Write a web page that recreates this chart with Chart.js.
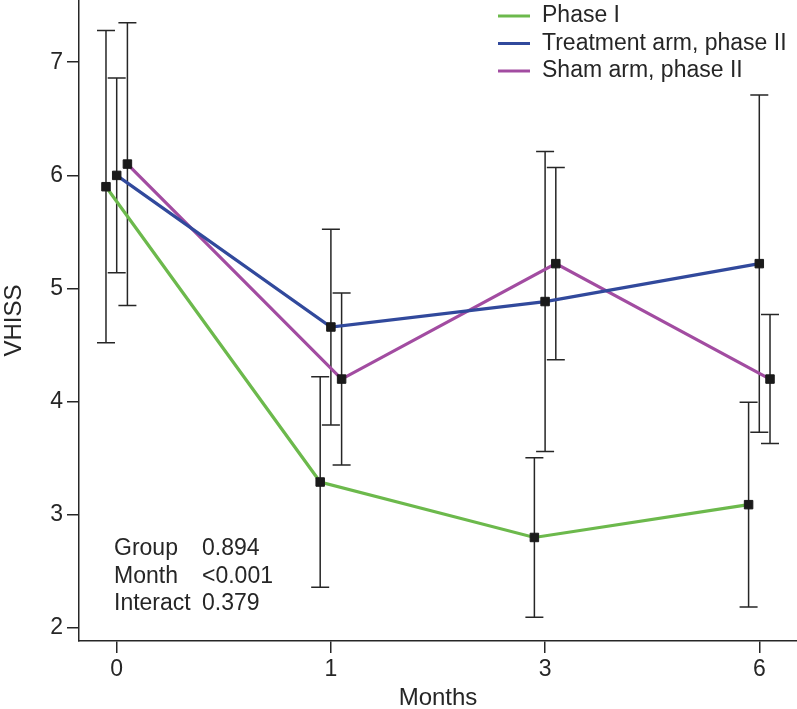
<!DOCTYPE html>
<html>
<head>
<meta charset="utf-8">
<script src="https://cdn.jsdelivr.net/npm/chart.js@4/dist/chart.umd.min.js"></script>
<style>
  body { margin: 0; background: #fff; }
  canvas { display: block; }
</style>
</head>
<body>
<canvas id="chart" width="797" height="709"></canvas>
<script>
// categories (months) and their slot on the x axis
var months = ['0', '1', '3', '6']
var monthSlots = [0, 1, 2, 3]
var yTicks = [2, 3, 4, 5, 6, 7]

// means and half-width of error bars
var phase1 = [5.90, 3.29, 2.80, 3.09]
var phase1Err = [1.38, 0.93, 0.705, 0.905]
var treatment = [6.00, 4.66, 4.885, 5.22]
var treatmentErr = [0.86, 0.865, 1.326, 1.49]
var sham = [6.10, 4.20, 5.22, 4.20]
var shamErr = [1.25, 0.76, 0.85, 0.57]

var seriesNames = ['Phase I', 'Treatment arm, phase II', 'Sham arm, phase II']

// statistics box in the lower left
var statNames = ['Group', 'Month', 'Interact']
var statValues = ['0.894', '<0.001', '0.379']

var FONT = '"Liberation Sans", Arial, Helvetica, sans-serif'
var INK = '#262626'
var colors = ['rgb(108,185,76)', 'rgb(49,73,156)', 'rgb(162,76,161)']
var dodge = [-0.05, 0, 0.05]

function points(means, shift) {
    return means.map((m, i) => ({ x: monthSlots[i] + shift, y: m }))
}

var allErrs = [phase1Err, treatmentErr, shamErr]

var errorBars = {
    id: 'errorBars',
    beforeDatasetsDraw(chart) {
        const ctx = chart.ctx
        const xs = chart.scales.x
        const ys = chart.scales.y
        ctx.save()
        ctx.strokeStyle = INK
        ctx.lineWidth = 1.5
        chart.data.datasets.forEach((ds, di) => {
            ds.data.forEach((p, i) => {
                const e = allErrs[di][i]
                const px = xs.getPixelForValue(p.x)
                const top = ys.getPixelForValue(p.y + e)
                const bot = ys.getPixelForValue(p.y - e)
                ctx.beginPath()
                ctx.moveTo(px, top)
                ctx.lineTo(px, bot)
                ctx.moveTo(px - 9, top)
                ctx.lineTo(px + 9, top)
                ctx.moveTo(px - 9, bot)
                ctx.lineTo(px + 9, bot)
                ctx.stroke()
            })
        })
        ctx.restore()
    }
}

var extras = {
    id: 'extras',
    afterDraw(chart) {
        const ctx = chart.ctx
        const area = chart.chartArea
        ctx.save()
        // legend
        ctx.font = '23px ' + FONT
        ctx.textBaseline = 'middle'
        ctx.textAlign = 'left'
        chart.data.datasets.forEach((ds, i) => {
            const y = 16 + i * 27.5
            ctx.strokeStyle = ds.borderColor
            ctx.lineWidth = 3
            ctx.beginPath()
            ctx.moveTo(498, y)
            ctx.lineTo(530, y)
            ctx.stroke()
            ctx.fillStyle = INK
            ctx.fillText(ds.label, 542, y)
        })
        // stats
        statNames.forEach((n, i) => {
            const y = area.bottom - 92 + i * 27.5
            ctx.fillText(n, area.left + 35, y)
            ctx.fillText(statValues[i], area.left + 123, y)
        })
        ctx.restore()
    }
}

var axisLine = { display: true, color: INK, width: 1.5 }
var tickGrid = { display: true, drawOnChartArea: false, drawTicks: true, tickLength: 12, color: INK, lineWidth: 1.5 }

new Chart(document.getElementById('chart'), {
    type: 'line',
    data: {
        datasets: [
            { label: seriesNames[0], data: points(phase1, dodge[0]), borderColor: colors[0] },
            { label: seriesNames[1], data: points(treatment, dodge[1]), borderColor: colors[1] },
            { label: seriesNames[2], data: points(sham, dodge[2]), borderColor: colors[2] }
        ].map(ds => Object.assign(ds, {
            borderWidth: 3.2,
            tension: 0,
            pointStyle: 'rect',
            pointRadius: 6,
            pointBackgroundColor: '#1a1a1a',
            pointBorderColor: '#1a1a1a',
            pointBorderWidth: 1
        }))
    },
    options: {
        responsive: false,
        animation: false,
        layout: { padding: 0, autoPadding: false },
        plugins: { legend: { display: false }, tooltip: { enabled: false } },
        scales: {
            x: {
                type: 'linear',
                min: -0.176,
                max: 3.176,
                afterBuildTicks: s => { s.ticks = monthSlots.map(v => ({ value: v })) },
                afterFit: s => {
                    s.height = 68
                    s.paddingLeft = 0
                    s.paddingRight = 0
                },
                grid: tickGrid,
                border: axisLine,
                ticks: {
                    color: INK,
                    font: { family: FONT, size: 23 },
                    padding: 3,
                    maxRotation: 0,
                    callback: (v, i) => months[i]
                },
                title: {
                    display: true,
                    text: 'Months',
                    color: INK,
                    font: { family: FONT, size: 24, lineHeight: 1 },
                    padding: { top: 0, bottom: -1 }
                }
            },
            y: {
                min: 1.885,
                max: 7.55,
                afterBuildTicks: s => { s.ticks = yTicks.map(v => ({ value: v })) },
                afterFit: s => {
                    s.width = 79
                    s.paddingTop = 0
                    s.paddingBottom = 0
                },
                grid: tickGrid,
                border: axisLine,
                ticks: {
                    color: INK,
                    font: { family: FONT, size: 23 },
                    padding: 4
                },
                title: {
                    display: true,
                    text: 'VHISS',
                    color: INK,
                    font: { family: FONT, size: 24, lineHeight: 1 },
                    padding: { top: 2, bottom: 0 }
                }
            }
        }
    },
    plugins: [errorBars, extras]
})
</script>
</body>
</html>
